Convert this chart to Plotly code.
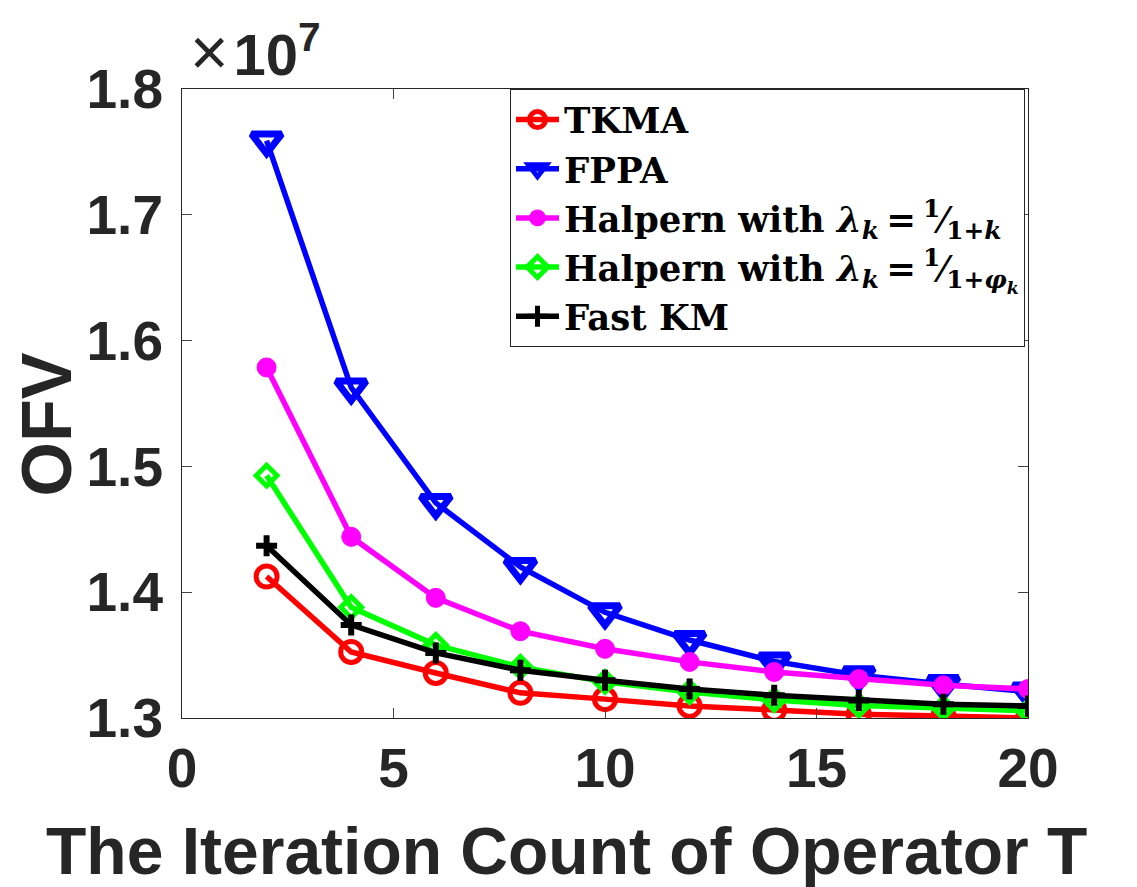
import plotly.graph_objects as go

# iteration counts and objective function values (in units of 1e7)
iters = [2, 4, 6, 8, 10, 12, 14, 16, 18, 20]
tkma = [1.4125, 1.3525, 1.3358, 1.3200, 1.3150, 1.3096, 1.3064, 1.3030, 1.3016, 1.3000]
fppa = [1.7590, 1.5627, 1.4710, 1.4200, 1.3840, 1.3620, 1.3450, 1.3340, 1.3270, 1.3210]
halpern_k = [1.5787, 1.4440, 1.3955, 1.3690, 1.3550, 1.3446, 1.3366, 1.3310, 1.3260, 1.3230]
halpern_phi = [1.4927, 1.3880, 1.3580, 1.3406, 1.3287, 1.3207, 1.3143, 1.3100, 1.3080, 1.3056]
fast_km = [1.4370, 1.3740, 1.3517, 1.3380, 1.3300, 1.3230, 1.3180, 1.3140, 1.3110, 1.3096]

x_ticks = [0, 5, 10, 15, 20]
y_ticks = [1.3, 1.4, 1.5, 1.6, 1.7, 1.8]

series = [
    ("TKMA", tkma, "#ff0000", "circle-open", 21, 5),
    ("FPPA", fppa, "#0000ff", "triangle-down-open", 26, 7),
    ("Halpern with <i>λ<sub>k</sub></i>\u2009=\u2009<sup>1</sup>⁄<sub>1+<i>k</i></sub>", halpern_k, "#ff00ff", "circle", 19, 1),
    ("Halpern with <i>λ<sub>k</sub></i>\u2009=\u2009<sup>1</sup>⁄<sub>1+<i>φ<sub>k</sub></i></sub>", halpern_phi, "#00ff00", "diamond-open", 16, 5),
    ("Fast KM", fast_km, "#000000", "cross-thin-open", 15, 6),
]

fig = go.Figure()
for name, vals, color, symbol, size, lw in series:
    fig.add_trace(go.Scatter(
        x=iters, y=vals, mode="lines+markers", name=name,
        line=dict(color=color, width=5.5),
        marker=dict(symbol=symbol, size=size, color=color,
                    line=dict(color=color, width=lw)),
    ))

sans = "Liberation Sans, Arial"
axis_font = dict(family=sans, size=55, color="#262626", weight="bold")

fig.update_layout(
    width=1129, height=879,
    margin=dict(l=174, r=109, t=81, b=169),
    plot_bgcolor="white", paper_bgcolor="white",
    showlegend=True,
    legend=dict(
        x=0.3877, y=1, xanchor="left", yanchor="top",
        bordercolor="#262626", borderwidth=1, bgcolor="white",
        font=dict(family="DejaVu Serif", size=35.5, color="black", weight="bold"),
        tracegroupgap=0, itemwidth=43,
    ),
    xaxis=dict(
        range=[0, 20], tickvals=x_ticks, ticks="inside", ticklen=10,
        showline=True, linecolor="#262626", linewidth=1, mirror="ticks",
        showgrid=False, zeroline=False, tickfont=axis_font,
        ticklabelstandoff=2,
    ),
    yaxis=dict(
        range=[1.3, 1.8], tickvals=y_ticks, tickformat=".1f", ticks="inside", ticklen=10,
        showline=True, linecolor="#262626", linewidth=1, mirror="ticks",
        showgrid=False, zeroline=False, tickfont=axis_font,
        ticklabelstandoff=7,
    ),
)

# axis titles and exponent label placed like the MATLAB figure
fig.add_annotation(
    x=0.455, y=-0.212, xref="paper", yref="paper", xanchor="center", yanchor="middle",
    showarrow=False, text="The Iteration Count of Operator T",
    font=dict(family=sans, size=66, color="#262626", weight="bold"),
)
fig.add_annotation(
    x=-0.16, y=0.466, xref="paper", yref="paper", xanchor="center", yanchor="middle",
    showarrow=False, textangle=-90, text="OFV",
    font=dict(family=sans, size=70, color="#262626", weight="bold"),
)
fig.add_annotation(
    x=0.007, y=1, xref="paper", yref="paper", xanchor="left", yanchor="bottom",
    showarrow=False, yshift=-2,
    text="<span style='font-weight:normal;font-size:66px'>×</span>\u200a10<sup>7</sup>",
    font=dict(family=sans, size=58, color="#262626", weight="bold"),
)

fig.write_html("out.html")
